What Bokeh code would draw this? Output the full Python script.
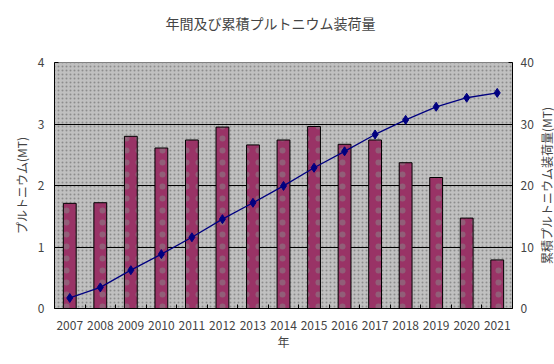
from bokeh.plotting import figure
from bokeh.layouts import row
from bokeh.models import (Range1d, LinearAxis, FixedTicker, BoxAnnotation, Title)
from bokeh.embed import file_html
from bokeh.resources import INLINE

years = ["2007", "2008", "2009", "2010", "2011", "2012", "2013", "2014",
         "2015", "2016", "2017", "2018", "2019", "2020", "2021"]
annual = [1.71, 1.72, 2.80, 2.61, 2.74, 2.95, 2.66, 2.74,
          2.96, 2.67, 2.74, 2.37, 2.13, 1.47, 0.79]
cumulative = [1.71, 3.43, 6.23, 8.84, 11.58, 14.53, 17.19, 19.93,
              22.89, 25.56, 28.30, 30.67, 32.80, 34.27, 35.06]
left_ticks = [0, 1, 2, 3, 4]
right_ticks = [0, 10, 20, 30, 40]
title_text = "年間及び累積プルトニウム装荷量"
x_label = "年"
left_label = "プルトニウム(MT)"
right_label = "累積プルトニウム装荷量(MT)"

JP = "Noto Sans CJK JP"
xs = list(range(1, len(years) + 1))

p = figure(width=536, height=364, output_backend="svg", toolbar_location=None,
           x_range=Range1d(0.5, len(years) + 0.5), y_range=Range1d(0, 4),
           min_border_left=54, min_border_right=22, min_border_top=62,
           min_border_bottom=56, title=title_text)
p.background_fill_color = "#c0c0c0"
p.border_fill_color = "white"
p.outline_line_color = "#808080"
p.outline_line_width = 1

p.title.text_font = JP
p.title.text_font_size = "14px"
p.title.text_font_style = "normal"
p.title.align = "left"
p.title.offset = 111
p.title.standoff = 18

# small spacer between title and plot area
p.add_layout(Title(text=" ", text_font_size="1px", standoff=18), "above")

p.extra_y_ranges = {"cum": Range1d(0, 40)}

# dotted background pattern
bg = BoxAnnotation(left=0.5, right=len(years) + 0.5, bottom=0, top=4,
                   fill_alpha=0, line_alpha=0, hatch_pattern="dot",
                   hatch_color="#8c8c8c", hatch_scale=4, hatch_weight=0.6,
                   level="image")
p.add_layout(bg)

p.xgrid.grid_line_color = None
p.ygrid.ticker = FixedTicker(ticks=left_ticks)
p.ygrid.grid_line_color = "black"
p.ygrid.grid_line_width = 1

p.vbar(x=xs, top=annual, width=0.42, fill_color="#993366", line_color="black",
       line_width=1, hatch_pattern="dot", hatch_color="#8a8a8a",
       hatch_scale=12, hatch_weight=0.6, hatch_alpha=0.5)

p.line(x=xs, y=cumulative, y_range_name="cum", line_color="#000080", line_width=1.3)
p.scatter(x=xs, y=cumulative, y_range_name="cum", marker="diamond", size=9,
          fill_color="#000080", line_color="#000080")

# x axis
xa = p.xaxis[0]
xa.ticker = FixedTicker(ticks=xs, minor_ticks=[i + 0.5 for i in xs[:-1]])
xa.major_label_overrides = {i: y for i, y in zip(xs, years)}
xa.major_tick_in = 0
xa.major_tick_out = 0
xa.minor_tick_in = 4
xa.minor_tick_out = 0
xa.minor_tick_line_color = "black"
xa.axis_line_color = "black"
xa.major_label_text_font = JP
xa.major_label_text_font_size = "12px"
xa.major_label_standoff = 12
xa.axis_label = x_label
xa.axis_label_text_font = JP
xa.axis_label_text_font_size = "12px"
xa.axis_label_text_font_style = "normal"
xa.axis_label_standoff = 0

# left axis
ya = p.yaxis[0]
ya.ticker = FixedTicker(ticks=left_ticks)
ya.major_tick_in = 4
ya.major_tick_out = 0
ya.minor_tick_line_color = None
ya.axis_line_color = "black"
ya.major_label_text_font = JP
ya.major_label_text_font_size = "12px"
ya.major_label_standoff = 10
ya.axis_label = left_label
ya.axis_label_text_font = JP
ya.axis_label_text_font_size = "12px"
ya.axis_label_text_font_style = "normal"
ya.axis_label_standoff = 5

# right axis (ticks and numbers)
ra = LinearAxis(y_range_name="cum", ticker=FixedTicker(ticks=right_ticks))
ra.major_tick_in = 4
ra.major_tick_out = 0
ra.minor_tick_line_color = None
ra.axis_line_color = "black"
ra.major_label_text_font = JP
ra.major_label_text_font_size = "12px"
ra.major_label_standoff = 8
p.add_layout(ra, "right")

# narrow companion panel carrying the right-hand axis title (reads bottom to top)
q = figure(width=18, height=364, output_backend="svg", toolbar_location=None,
           x_range=Range1d(0, 1), y_range=p.extra_y_ranges["cum"],
           min_border_left=0, min_border_right=0, min_border_top=62,
           min_border_bottom=56)
q.xaxis.visible = False
q.xgrid.visible = False
q.ygrid.visible = False
q.outline_line_color = None
q.background_fill_color = "white"
q.border_fill_color = "white"
qa = q.yaxis[0]
qa.ticker = FixedTicker(ticks=[])
qa.axis_line_color = None
qa.major_tick_line_color = None
qa.minor_tick_line_color = None
qa.major_tick_out = 0
qa.major_tick_in = 0
qa.major_label_standoff = 0
qa.axis_label = right_label
qa.axis_label_text_font = JP
qa.axis_label_text_font_size = "12px"
qa.axis_label_text_font_style = "normal"
qa.axis_label_standoff = 0

layout = row(p, q, spacing=0)
open("out.html", "w").write(file_html(layout, INLINE))
